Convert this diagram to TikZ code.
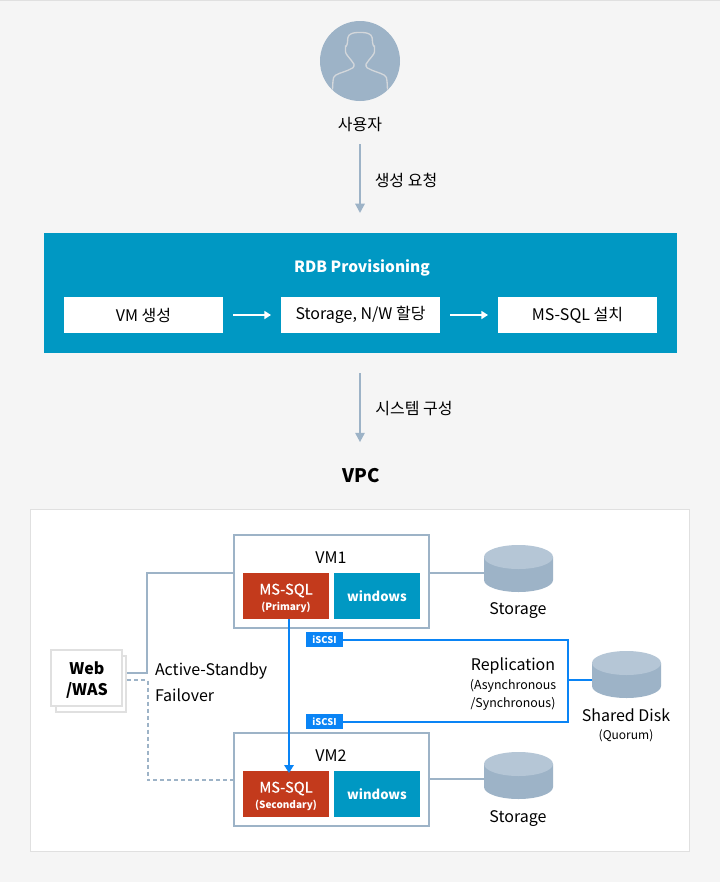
\documentclass[tikz,border=0pt]{standalone}
\usepackage{fontspec}
\setmainfont{Noto Sans CJK KR}
\newfontfamily\medfont[FakeBold=0.5]{Noto Sans CJK KR}
\usetikzlibrary{arrows.meta}

\definecolor{pagegray}{HTML}{F5F5F5}
\definecolor{framegray}{HTML}{E0E0E0}
\definecolor{linegray}{HTML}{9DB3C7}
\definecolor{disktop}{HTML}{B5C6D6}
\definecolor{provblue}{HTML}{0098C3}
\definecolor{sqlred}{HTML}{C33A1C}
\definecolor{linkblue}{HTML}{0A84F5}

\tikzset{
  txt/.style={inner sep=0pt,outer sep=0pt,align=center,font=\fontsize{12}{15}\selectfont},
  stepbox/.style={txt,fill=white,minimum width=119.25pt,minimum height=27pt},
  vmbox/.style={draw=linegray,line width=1.5pt,fill=white,minimum width=146pt,minimum height=69.5pt,inner sep=0pt,outer sep=0pt},
  sqlbox/.style={fill=sqlred,text=white,inner sep=0pt,outer sep=0pt,align=center,minimum width=64.5pt,minimum height=34.5pt},
  winbox/.style={sqlbox,fill=provblue,font=\fontsize{9.8}{14}\selectfont\bfseries},
  webbox/.style={draw=framegray,line width=1.5pt,fill=white,minimum width=53pt,minimum height=41.5pt,inner sep=0pt,outer sep=0pt},
  disk/.style={minimum width=51.75pt,minimum height=35.25pt,inner sep=0pt,outer sep=0pt,
    path picture={
      \begin{scope}[shift={(path picture bounding box.center)}]
        \fill[linegray] (-34.5,-11.5) -- (-34.5,11.5) arc[start angle=180,end angle=0,x radius=34.5,y radius=12] -- (34.5,-11.5) -- cycle;
        \fill[disktop] (0,-11.5) ellipse[x radius=34.5,y radius=12];
      \end{scope}
    }},
  tag/.style={fill=linkblue,text=white,inner sep=0pt,outer sep=0pt,minimum width=27.75pt,minimum height=11.25pt,font=\fontsize{7}{8}\selectfont\bfseries},
  grayline/.style={draw=linegray,line width=1.5pt},
  flowarr/.style={grayline,-{Triangle[width=7pt,length=7pt]}},
  whitearr/.style={draw=white,line width=1.5pt,-{Triangle[width=6pt,length=5pt]},shorten <=7.5pt,shorten >=7.5pt},
  linkline/.style={draw=linkblue,line width=1.5pt},
  sqlname/.style={txt,text=white,font=\fontsize{11}{12}\medfont},
  sqlrole/.style={txt,text=white,font=\fontsize{7.5}{9}\selectfont\bfseries},
}

\begin{document}
\begin{tikzpicture}[x=0.75pt,y=-0.75pt]
    \useasboundingbox (0,0) rectangle (720,882);
    \fill[pagegray] (0,0) rectangle (720,882);
    \fill[framegray] (0,0) rectangle (720,1);

    % User
    \node[circle,fill=linegray,minimum size=60pt,inner sep=0pt] (usr) at (360,61) {};
    \draw[draw=framegray!80!linegray,line width=1pt,rounded corners=2pt]
      (332.5,89.5) -- (333,80) .. controls (334.5,74) and (344.5,72) .. (350.5,69)
      .. controls (353.5,67.5) and (354.5,65) .. (352.5,62) .. controls (349.5,58) and (345.5,54) .. (345.5,49)
      .. controls (345.5,47) and (346.5,46) .. (347.5,45) -- (347.5,40) .. controls (348.5,34) and (353.5,32.5) .. (360,32.5)
      .. controls (366.5,32.5) and (371.5,34) .. (372.5,40) -- (372.5,45) .. controls (373.5,46) and (374.5,47) .. (374.5,49)
      .. controls (374.5,54) and (370.5,58) .. (367.5,62) .. controls (365.5,65) and (366.5,67.5) .. (369.5,69)
      .. controls (375.5,72) and (385.5,74) .. (387,80) -- (387.5,89.5);
    \node[txt] (usrname) at (360,125) {사용자};
    \node[txt] (reqlabel) at (406,180.5) {생성 요청};

    % Provisioning
    \node[fill=provblue,minimum width=474.75pt,minimum height=90pt,inner sep=0pt,outer sep=0pt] (rdb) at (360.5,293) {};
    \node[txt,text=white,font=\fontsize{11.6}{15}\selectfont\bfseries] (rdbname) at (362,267.5) {RDB Provisioning};
    \node[stepbox] (vmstep) at (143.5,315) {\raisebox{-1.5pt}{VM 생성}};
    \node[stepbox] (netstep) at (360.5,315) {\raisebox{-1.5pt}{Storage, N/W 할당}};
    \node[stepbox] (sqlstep) at (577.5,315) {\raisebox{-1.5pt}{MS-SQL 설치}};
    \draw[whitearr] (vmstep) -- (netstep);
    \draw[whitearr] (netstep) -- (sqlstep);
    \draw[flowarr,shorten <=9pt,shorten >=15pt] (usrname.south) -- (usrname.south |- rdb.north);

    % VPC
    \node[txt] (syslabel) at (414,409) {시스템 구성};
    \node[txt,font=\fontsize{14}{18}\selectfont\bfseries] (vpc) at (361,476) {VPC};
    \draw[flowarr,shorten <=15pt,shorten >=20pt] (usrname.south |- rdb.south) -- (usrname.south |- vpc.north);
    \node[draw=framegray,fill=white,minimum width=494.25pt,minimum height=256.5pt,inner sep=0pt] (panel) at (360,680.5) {};

    % Web tier
    \node[webbox] (webback) at (91,684) {};
    \node[webbox] (web) at (86.5,678) {};
    \node[txt,font=\fontsize{12}{16}\selectfont\bfseries] (webname) at (87,680) {Web\\/WAS};
    \node[txt,anchor=west,align=left,font=\fontsize{12}{19.5}\selectfont] (failover) at (155,682.5) {Active-Standby\\Failover};

    % VMs
    \node[vmbox] (vmone) at (331.5,581.5) {};
    \node[vmbox] (vmtwo) at (331.5,779.5) {};
    \node[txt] (vmonename) at (331,558) {VM1};
    \node[txt] (vmtwoname) at (331,756) {VM2};
    \node[sqlbox] (sqlone) at (286,596) {};
    \node[sqlbox] (sqltwo) at (286,794) {};
    \node[sqlname] (sqlonename) at (286,590.5) {MS-SQL};
    \node[sqlrole] (sqlonerole) at (286,607.5) {(Primary)};
    \node[sqlname] (sqltwoname) at (286,788.5) {MS-SQL};
    \node[sqlrole] (sqltworole) at (286,805.5) {(Secondary)};
    \node[winbox] (winone) at (377,596) {\raisebox{-.75pt}{windows}};
    \node[winbox] (wintwo) at (377,794) {\raisebox{-.75pt}{windows}};

    % Disks
    \node[disk] (diskone) at (518.5,568.5) {};
    \node[disk] (disktwo) at (518.5,775.5) {};
    \node[disk] (diskshared) at (626.5,674.5) {};
    \node[txt] (diskonename) at (518,611) {Storage};
    \node[txt] (disktwoname) at (518,818.5) {Storage};
    \node[txt] (disksharedname) at (626,715) {Shared Disk};
    \node[txt,font=\fontsize{9}{10}\selectfont] (quorum) at (626,735.5) {(Quorum)};

    % Replication
    \node[tag] (tagone) at (324.5,639.5) {iSCSI};
    \node[tag] (tagtwo) at (324.5,721.5) {iSCSI};
    \coordinate (corner) at (568,680);
    \node[txt] (repl) at (513,666) {Replication};
    \node[txt,font=\fontsize{9.3}{13.5}\selectfont] (replkind) at (513,694.5) {(Asynchronous\\/Synchronous)};
    \draw[linkline] (tagone.east) -| (corner) |- (tagtwo.east);
    \draw[linkline] (corner) -- (corner -| diskshared.west);
    \draw[linkline,-{Triangle[width=7pt,length=6pt]}] (289,619) -- (289,773);

    % Links
    \draw[grayline] (vmone.east |- 0,573) -- (diskone.west |- 0,573);
    \draw[grayline] (vmtwo.east |- 0,779) -- (disktwo.west |- 0,779);
    \draw[grayline] (127,673) -- (147,673) |- (234,573);
    \draw[grayline,dash pattern=on 3pt off 2.25pt] (127,680) -- (147.5,680) |- (234,780);
\end{tikzpicture}
\end{document}
